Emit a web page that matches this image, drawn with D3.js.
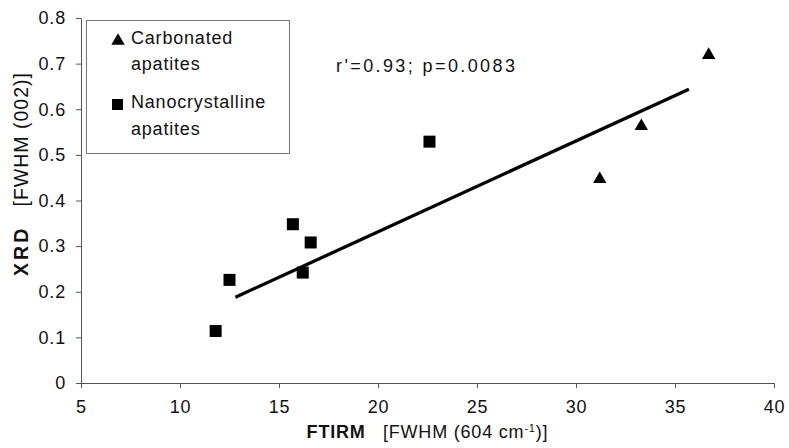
<!DOCTYPE html>
<html>
<head>
<meta charset="utf-8">
<script src="https://cdn.jsdelivr.net/npm/d3@7"></script>
<style>
  body { margin: 0; background: #fff; }
  svg { font-family: "Liberation Sans", Arial, sans-serif; }
  svg text { letter-spacing: 0.8px; }
</style>
</head>
<body>
<div id="chart"></div>
<script>
// data
const carbX = [31.2, 33.3, 36.7];
const carbY = [0.449, 0.565, 0.721];
const nanoX = [11.8, 12.5, 15.7, 16.2, 16.6, 22.6];
const nanoY = [0.114, 0.226, 0.348, 0.242, 0.308, 0.529];
const trendX = [12.8, 35.7];
const trendY = [0.188, 0.644];
const xTicks = [5, 10, 15, 20, 25, 30, 35, 40];
const yTicks = [0, 0.1, 0.2, 0.3, 0.4, 0.5, 0.6, 0.7, 0.8];

const width = 789, height = 448;
const margin = {top: 18, right: 15, bottom: 65, left: 81};

const svg = d3.select('#chart').append('svg')
  .attr('width', width)
  .attr('height', height);

const x = d3.scaleLinear().domain([5, 40]).range([margin.left, width - margin.right]);
const y = d3.scaleLinear().domain([0, 0.8]).range([height - margin.bottom, margin.top]);

// axes
const xAxis = svg.append('g')
  .attr('transform', `translate(0,${y(0)})`)
  .call(d3.axisBottom(x).tickValues(xTicks).tickSize(5).tickSizeOuter(0).tickPadding(12).tickFormat(d3.format('d')));
const yAxis = svg.append('g')
  .attr('transform', `translate(${x(5)},0)`)
  .call(d3.axisLeft(y).tickValues(yTicks).tickSize(5).tickSizeOuter(0).tickPadding(10).tickFormat(d => d === 0 ? '0' : d3.format('.1f')(d)));

[xAxis, yAxis].forEach(a => {
  a.select('.domain').attr('stroke', '#555');
  a.selectAll('line').attr('stroke', '#555');
  a.selectAll('text').attr('fill', '#111').style('font-size', '18px');
});

// trend line
svg.append('line')
  .attr('x1', x(trendX[0])).attr('y1', y(trendY[0]))
  .attr('x2', x(trendX[1])).attr('y2', y(trendY[1]))
  .attr('stroke', '#000').attr('stroke-width', 3.3);

// markers
const tri = d3.symbol().type(d3.symbolTriangle).size(78);
svg.append('g').selectAll('path')
  .data(carbX.map((v, i) => [v, carbY[i]]))
  .join('path')
  .attr('d', tri)
  .attr('transform', d => `translate(${x(d[0])},${y(d[1]) + 1})`)
  .attr('fill', '#000');

svg.append('g').selectAll('rect')
  .data(nanoX.map((v, i) => [v, nanoY[i]]))
  .join('rect')
  .attr('x', d => x(d[0]) - 6)
  .attr('y', d => y(d[1]) - 6)
  .attr('width', 12).attr('height', 12)
  .attr('fill', '#000');

// legend
const leg = svg.append('g');
leg.append('rect')
  .attr('x', 86.5).attr('y', 20.5).attr('width', 203).attr('height', 133)
  .attr('fill', '#fff').attr('stroke', '#777');
leg.append('path').attr('d', tri).attr('transform', 'translate(118,41)').attr('fill', '#000');
leg.append('rect').attr('x', 112).attr('y', 99).attr('width', 11).attr('height', 11).attr('fill', '#000');
const legText = [['Carbonated', 44], ['apatites', 70], ['Nanocrystalline', 108], ['apatites', 135]];
leg.selectAll('text').data(legText).join('text')
  .attr('x', 131).attr('y', d => d[1])
  .style('font-size', '18px').attr('fill', '#111')
  .text(d => d[0]);

// annotation
svg.append('text')
  .attr('x', 336).attr('y', 72)
  .style('font-size', '18px').style('letter-spacing', '2.4px').attr('fill', '#111')
  .text("r'=0.93; p=0.0083");

// axis titles
const xt = svg.append('text')
  .attr('x', (x(5) + x(40)) / 2).attr('y', 438)
  .attr('text-anchor', 'middle')
  .style('font-size', '18px').attr('fill', '#111');
xt.append('tspan').attr('font-weight', 'bold').text('FTIRM');
xt.append('tspan').text('\u00a0\u00a0\u00a0[FWHM (604 cm');
xt.append('tspan').attr('baseline-shift', 'super').style('font-size', '11px').text('-1');
xt.append('tspan').text(')]');

const yt = svg.append('text')
  .attr('transform', 'translate(28,174) rotate(-90)')
  .attr('text-anchor', 'middle')
  .style('font-size', '19.5px').style('letter-spacing', '1px').attr('fill', '#111');
yt.append('tspan').attr('font-weight', 'bold').style('letter-spacing', '3px').text('XRD');
yt.append('tspan').text('\u00a0\u00a0\u00a0[FWHM (002)]');
</script>
</body>
</html>
